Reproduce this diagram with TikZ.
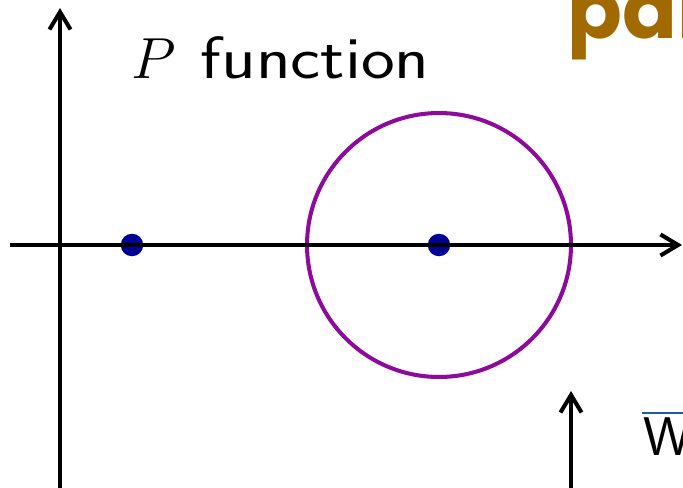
\RequirePackage{fix-cm}
\documentclass[tikz,border=0pt]{standalone}
\usepackage{fontspec}
\newfontfamily\headfont{Poppins}
\newfontfamily\labelfont{Latin Modern Sans}[FakeStretch=1.2]
\usetikzlibrary{arrows.meta}
\definecolor{ringpurple}{HTML}{8E0A9C}
\definecolor{dotblue}{HTML}{000096}
\definecolor{headbrown}{HTML}{A06A00}
\definecolor{barblue}{HTML}{1F5AA8}
\tikzset{axis/.style = {line width=2.3pt,
                        -{Straight Barb[length=10pt,width=12pt,line width=2.3pt]}}}
\tikzset{circ/.style = {fill=dotblue, circle, inner sep = 0, minimum size = 0.45cm}}
\tikzset{ring/.style = {draw=ringpurple, line width=2.3pt}}

\begin{document}
\begin{tikzpicture}[x=0.02cm, y=-0.02cm]
      \useasboundingbox (0,0) rectangle (683,487);
      % Points on the real line
      \node[circ] (left dot) at (132,245) {};
      \node[circ] (centre) at (439,245) {};
      \draw[ring] (centre) circle[radius=2.64cm];

      % Draw axes
      \coordinate (y bottom) at (60,495);
      \coordinate (y top) at (60,8);
      \coordinate (x left) at (10,245);
      \coordinate (x right) at (682,245);
      \draw[axis] (y bottom) -- (y top);
      \draw[axis] (x left) -- (x right);
      \coordinate (z bottom) at (571,495);
      \coordinate (z top) at (571,391);
      \draw[axis] (z bottom) -- (z top);

      % Labels
      \node[anchor=base west, inner sep=0, font=\fontsize{33}{40}\selectfont]
            (ptitle) at (131,78) {$P$\hspace{0.5cm}\fontsize{34}{40}\labelfont function};
      \node[anchor=base west, inner sep=0, text=headbrown,
            font=\headfont\bfseries\fontsize{46}{50}\selectfont]
            (header) at (567,38) {par};
      \node[anchor=base west, inner sep=0, font=\sffamily\fontsize{31}{36}\selectfont]
            (wlabel) at (643,455) {W};
      \coordinate (bar left) at (642,413);
      \coordinate (bar right) at (690,413);
      \draw[barblue, line width=1.1pt] (bar left) -- (bar right);
    \end{tikzpicture}
\end{document}
